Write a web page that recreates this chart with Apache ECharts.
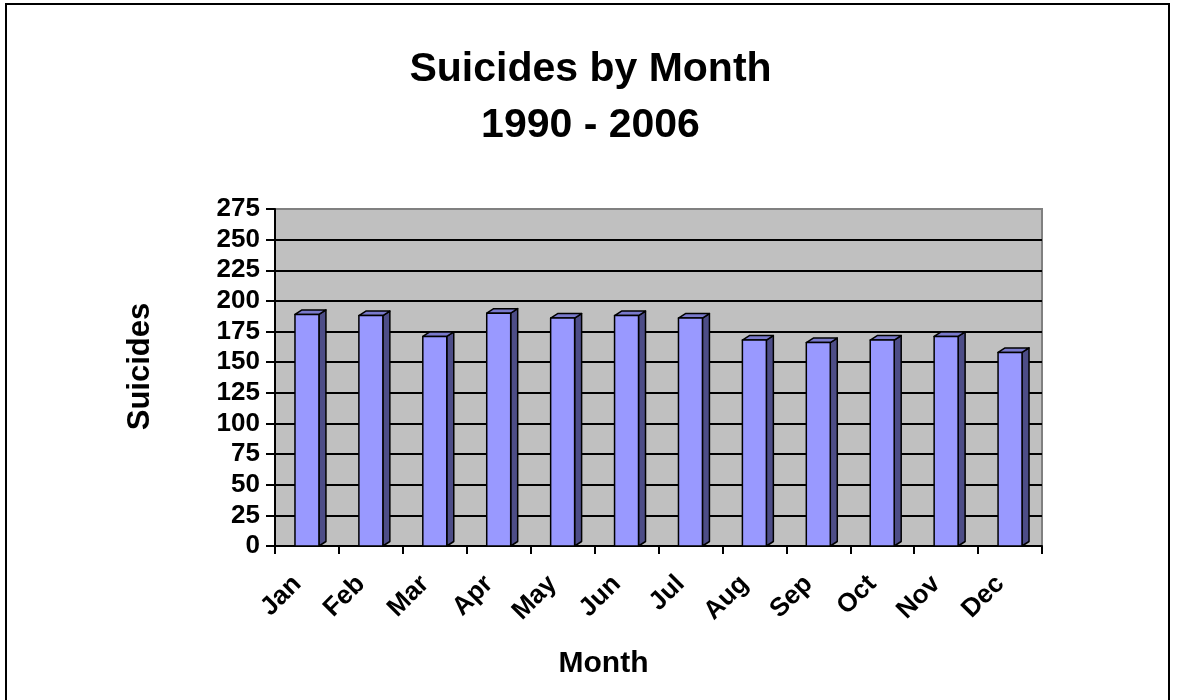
<!DOCTYPE html>
<html>
<head>
<meta charset="utf-8">
<script src="https://cdn.jsdelivr.net/npm/echarts@6/dist/echarts.min.js"></script>
<style>
  html, body { margin: 0; padding: 0; background: #fff; }
  #chart { width: 1181px; height: 700px; }
</style>
</head>
<body>
<div id="chart"></div>
<script>
// data
const months = ['Jan', 'Feb', 'Mar', 'Apr', 'May', 'Jun', 'Jul', 'Aug', 'Sep', 'Oct', 'Nov', 'Dec']
const suicides = [189, 188, 171, 190, 186, 188, 186, 168, 166, 168, 171, 158]
const yMin = 0
const yMax = 275
const yStep = 25

const FONT = '"Liberation Sans", Arial, sans-serif'
const DEPTH_X = 7
const DEPTH_Y = 4.5

// excel style 3d column: front face, side face, top face
function renderColumn(params, api) {
  const top = api.coord([api.value(0), api.value(1)])
  const base = api.coord([api.value(0), 0])
  const bw = api.size([1, 0])[0] * 0.375
  const x0 = top[0] - bw / 2
  const x1 = x0 + bw
  const yt = top[1]
  const yb = base[1]
  const border = { stroke: '#000', lineWidth: 1.5, lineJoin: 'round' }
  return {
    type: 'group',
    children: [
      {
        type: 'polygon',
        shape: { points: [[x1, yt], [x1 + DEPTH_X, yt - DEPTH_Y], [x1 + DEPTH_X, yb - DEPTH_Y], [x1, yb]] },
        style: Object.assign({ fill: '#4d4d87' }, border)
      },
      {
        type: 'polygon',
        shape: { points: [[x0, yt], [x0 + DEPTH_X, yt - DEPTH_Y], [x1 + DEPTH_X, yt - DEPTH_Y], [x1, yt]] },
        style: Object.assign({ fill: '#7a7acc' }, border)
      },
      {
        type: 'rect',
        shape: { x: x0, y: yt, width: bw, height: yb - yt },
        style: Object.assign({ fill: '#9999ff' }, border)
      }
    ]
  }
}

const chart = echarts.init(document.getElementById('chart'))
chart.setOption({
  backgroundColor: '#fff',
  textStyle: { fontFamily: FONT },
  animation: false,
  title: {
    text: 'Suicides by Month\n1990 - 2006',
    left: 'center',
    top: 37,
    padding: [5, 0, 5, 16],
    textStyle: {
      fontFamily: FONT,
      fontSize: 41,
      fontWeight: 'bold',
      color: '#000',
      lineHeight: 56
    }
  },
  graphic: [
    {
      type: 'rect',
      shape: { x: 6, y: 4, width: 1163, height: 720 },
      style: { fill: 'none', stroke: '#000', lineWidth: 2 },
      silent: true
    }
  ],
  grid: {
    left: 275,
    right: 139,
    top: 209,
    bottom: 154,
    show: true,
    backgroundColor: '#c0c0c0',
    borderColor: '#808080',
    borderWidth: 2
  },
  xAxis: {
    type: 'category',
    data: months,
    name: 'Month',
    nameLocation: 'middle',
    nameGap: 103,
    nameTextStyle: {
      fontFamily: FONT,
      fontSize: 30,
      fontWeight: 'bold',
      color: '#000',
      padding: [0, 110, 0, 0]
    },
    axisLine: { lineStyle: { color: '#000', width: 2 } },
    axisTick: { show: true, length: 8, lineStyle: { color: '#000', width: 2 } },
    axisLabel: {
      interval: 0,
      rotate: 45,
      margin: 24,
      padding: [0, 14, 0, 0],
      fontFamily: FONT,
      fontSize: 26,
      fontWeight: 'bold',
      color: '#000'
    },
    splitLine: { show: false }
  },
  yAxis: {
    type: 'value',
    min: yMin,
    max: yMax,
    interval: yStep,
    name: 'Suicides',
    nameLocation: 'middle',
    nameGap: 119,
    nameRotate: 90,
    nameTextStyle: {
      fontFamily: FONT,
      fontSize: 31,
      fontWeight: 'bold',
      color: '#000',
      padding: [0, 0, 0, 22]
    },
    axisLine: { show: true, lineStyle: { color: '#000', width: 2 } },
    axisTick: { show: true, length: 9, lineStyle: { color: '#000', width: 2 } },
    axisLabel: {
      margin: 15,
      fontFamily: FONT,
      fontSize: 26,
      fontWeight: 'bold',
      color: '#000'
    },
    splitLine: {
      show: true,
      showMinLine: false,
      showMaxLine: false,
      lineStyle: { color: '#000', width: 2 }
    }
  },
  series: [
    {
      name: 'Suicides',
      type: 'custom',
      renderItem: renderColumn,
      encode: { x: 0, y: 1 },
      data: suicides.map((v, i) => [i, v])
    }
  ]
})
</script>
</body>
</html>
